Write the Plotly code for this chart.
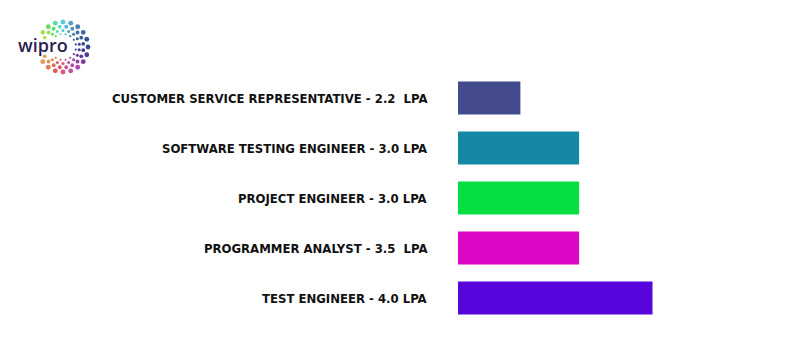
import math
import colorsys
import plotly.graph_objects as go

# ---- data ----
roles = [
    "CUSTOMER SERVICE REPRESENTATIVE",
    "SOFTWARE TESTING ENGINEER",
    "PROJECT ENGINEER",
    "PROGRAMMER ANALYST",
    "TEST ENGINEER",
]
label_texts = [
    "CUSTOMER SERVICE REPRESENTATIVE - 2.2  LPA",
    "SOFTWARE TESTING ENGINEER - 3.0 LPA",
    "PROJECT ENGINEER - 3.0 LPA",
    "PROGRAMMER ANALYST - 3.5  LPA",
    "TEST ENGINEER - 4.0 LPA",
]
# bar lengths as drawn in the picture (the programmer-analyst bar is drawn at 3.0)
bar_values = [2.2, 3.0, 3.0, 3.0, 4.0]
bar_colors = ["#434A8E", "#1588A5", "#06DF42", "#DD06C5", "#5805DB"]

# page has an 8px body margin, so the figure is sized/positioned to compensate
OFF = 8
W, H = 800 - OFF, 358 - OFF
ML, MR, MT, MB = 458 - OFF, 0, 73 - OFF, 35
PW = W - ML - MR
PH = H - MT - MB
X0 = 1.35          # axis start
PX_PER_UNIT = 73.4

LABEL_FONT = "DejaVu Sans Condensed, Roboto, Arial Narrow, sans-serif"

fig = go.Figure()
fig.add_trace(go.Bar(
    y=roles, x=bar_values, orientation="h",
    marker=dict(color=bar_colors, line=dict(width=0)),
    hoverinfo="skip",
))

annotations = []
for r, t in zip(roles, label_texts):
    annotations.append(dict(
        x=-29 / PW, xref="paper", y=r, yref="y",
        text=t, showarrow=False, xanchor="right", yanchor="middle",
        font=dict(family=LABEL_FONT, size=13, color="#111111", weight="bold"),
    ))

# ---- logo (decorative) ----
def px(xp):
    return (xp - OFF - ML) / PW

def py(yp):
    return (H - MB - (yp - OFF)) / PH

hue_stops = [(0, 190), (45, 212), (90, 232), (135, 285), (180, 345),
             (225, 385), (270, 410), (315, 455), (360, 550)]

def hue_at(theta):
    for (a0, h0), (a1, h1) in zip(hue_stops[:-1], hue_stops[1:]):
        if a0 <= theta <= a1:
            return (h0 + (h1 - h0) * (theta - a0) / (a1 - a0)) % 360
    return 190

shapes = []
cx, cy = 63, 47
rings = [(25, 2.4, 20), (20.5, 1.9, 20), (16.5, 1.5, 18), (13, 1.1, 16)]
for k, (rad, dr, n) in enumerate(rings):
    for i in range(n):
        theta = (360 / n) * (i + 0.5 * k)
        a = math.radians(theta)
        dx = rad * math.sin(a)
        dy = -rad * math.cos(a)
        if dx < -3 and abs(dy) < 9:
            continue
        val = 0.88 - 0.3 * max(0.0, math.sin(a))
        r, g, b = colorsys.hsv_to_rgb(hue_at(theta) / 360, 0.62, val)
        col = "rgb(%d,%d,%d)" % (r * 255, g * 255, b * 255)
        x, y = cx + dx, cy + dy
        shapes.append(dict(
            type="circle", xref="paper", yref="paper",
            x0=px(x - dr), x1=px(x + dr), y0=py(y + dr), y1=py(y - dr),
            fillcolor=col, line=dict(width=0), layer="above",
        ))

annotations.append(dict(
    x=px(42.5), xref="paper", y=py(45), yref="paper",
    text="wipro", showarrow=False, xanchor="center", yanchor="middle",
    font=dict(family="Open Sans", size=18, color="#2B1D50", weight=600),
))

fig.update_layout(
    width=W, height=H,
    margin=dict(l=ML, r=MR, t=MT, b=MB, pad=0),
    paper_bgcolor="white", plot_bgcolor="white",
    showlegend=False,
    bargap=0.34,
    xaxis=dict(range=[X0, X0 + PW / PX_PER_UNIT], visible=False, fixedrange=True),
    yaxis=dict(categoryorder="array", categoryarray=roles, range=[4.5, -0.5],
               showticklabels=False, showgrid=False, zeroline=False, ticks="", fixedrange=True),
    annotations=annotations,
    shapes=shapes,
)

fig.write_html("out.html")
